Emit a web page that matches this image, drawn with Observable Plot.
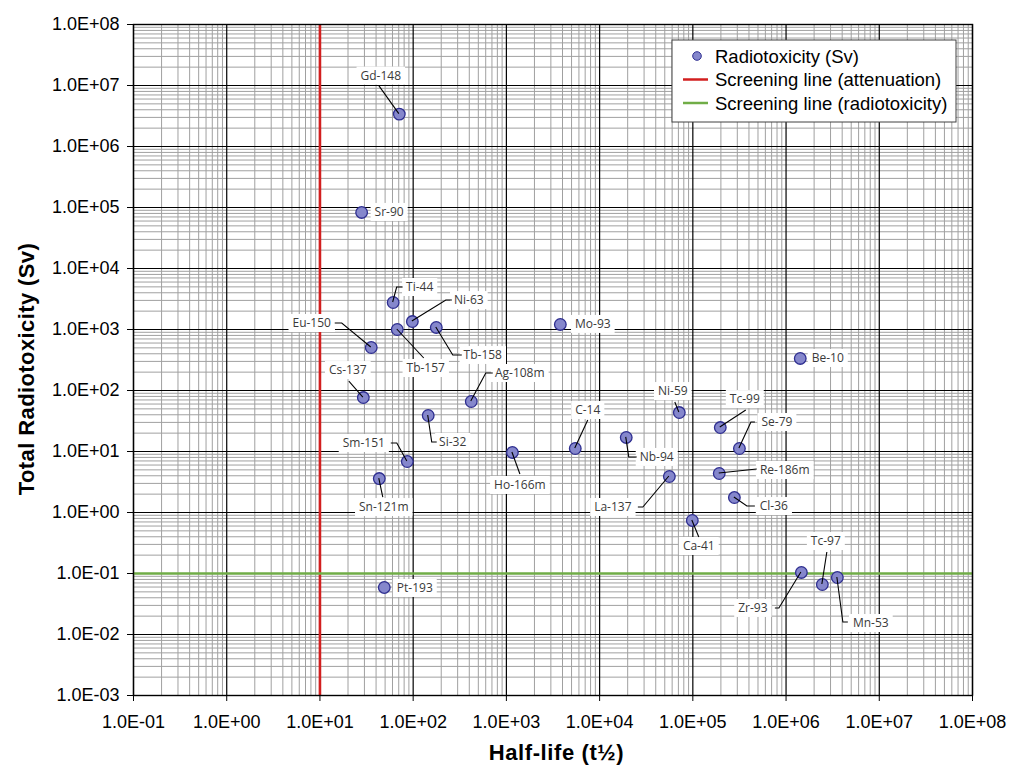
<!DOCTYPE html>
<html>
<head>
<meta charset="utf-8">
<script src="https://cdn.jsdelivr.net/npm/d3@7"></script>
<script src="https://cdn.jsdelivr.net/npm/@observablehq/plot@0.6"></script>
<style>
  html, body { margin: 0; padding: 0; background: #fff; }
  #chart svg { display: block; }
</style>
</head>
<body>
<div id="chart"></div>
<script>
// ---------- data ----------
const nuclides = ["Gd-148","Sr-90","Ti-44","Ni-63","Eu-150","Tb-157","Tb-158","Cs-137","Ag-108m","Si-32",
  "Sm-151","Sn-121m","Pt-193","Ho-166m","Mo-93","C-14","Nb-94","La-137","Ni-59","Ca-41",
  "Tc-99","Se-79","Re-186m","Cl-36","Be-10","Zr-93","Tc-97","Mn-53"];
const halfLife = [71, 28, 61, 98, 35.5, 67.5, 177, 29.2, 420, 145,
  86.5, 43.3, 49, 1160, 3790, 5480, 19300, 56000, 71600, 98700,
  197000, 316000, 192000, 279000, 1.42e6, 1.46e6, 2.45e6, 3.55e6];
const radiotoxicity = [3.4e6, 8.3e4, 2770, 1350, 507, 1000, 1080, 76.7, 66, 38.9,
  6.85, 3.6, 0.059, 9.64, 1210, 11.2, 17, 3.89, 43.5, 0.74,
  24.7, 11.2, 4.36, 1.76, 335, 0.104, 0.066, 0.086];

const attenuationScreen = [10];
const radiotoxicityScreen = [0.1];

const xTicks = [1e-1, 1e0, 1e1, 1e2, 1e3, 1e4, 1e5, 1e6, 1e7, 1e8];
const xTickLabels = ["1.0E-01","1.0E+00","1.0E+01","1.0E+02","1.0E+03","1.0E+04","1.0E+05","1.0E+06","1.0E+07","1.0E+08"];
const yTicks = [1e-3, 1e-2, 1e-1, 1e0, 1e1, 1e2, 1e3, 1e4, 1e5, 1e6, 1e7, 1e8];
const yTickLabels = ["1.0E-03","1.0E-02","1.0E-01","1.0E+00","1.0E+01","1.0E+02","1.0E+03","1.0E+04","1.0E+05","1.0E+06","1.0E+07","1.0E+08"];

const xTitle = "Half-life (t½)";
const yTitle = "Total Radiotoxicity (Sv)";
const legendLabels = ["Radiotoxicity (Sv)", "Screening line (attenuation)", "Screening line (radiotoxicity)"];

// ---------- label layout (pixel offsets from each point) ----------
const labelOffsets = [[-18,-38],[28,0],[27,-15],[57,-21],[-59,-24],[29,39],[47,28],[-15,-27],[49,-28],[25,27],
  [-43,-18],[5,29],[31,1],[8,33],[33,0],[13,-38],[31,20],[-56,31],[-6,-21],[7,26],
  [25,-28],[38,-26],[66,-3],[40,9],[28,0],[-48,36],[4,-43],[34,46]];
const leaderPaths = [[[-20,-28]],[],[[4,-15],[10,-15]],[[34,-21],[40,-21]],[[-29,-24],[-36,-24]],[[27,29]],[[17,28],[26,28]],[[-14,-16]],[[15,-28],[22,-28]],[[4,27],[9,27]],
  [[-10,-18],[-16,-18]],[[4,19]],[],[[8,22]],[],[[13,-28]],[[3,20],[11,20]],[[-26,31],[-31,31]],[[-4,-10]],[[7,17]],
  [[26,-17]],[[12,-26],[16,-26]],[[38,-4]],[[13,9],[21,9]],[],[[-22,36],[-26,36]],[[5,-32]],[[6,45],[11,45]]];

// ---------- derived ----------
const data = nuclides.map((name, i) => ({name, t: halfLife[i], sv: radiotoxicity[i]}));
function minorOf(major) {
  const out = [];
  for (let k = 0; k < major.length - 1; k++) for (let m = 2; m <= 9; m++) out.push(m * major[k]);
  return out;
}
const xMinor = minorOf(xTicks);
const yMinor = minorOf(yTicks);
const fmtFrom = (ticks, labels) => d => {
  const i = ticks.findIndex(t => Math.abs(Math.log10(t) - Math.log10(d)) < 1e-6);
  return i >= 0 ? labels[i] : "";
};

const LABEL_FONT = "12px 'Open Sans'";
const measureCtx = document.createElement("canvas").getContext("2d");
measureCtx.font = LABEL_FONT;

const SANS = "'Liberation Sans', Arial, sans-serif";
const dotFill = "#8587cc", dotStroke = "#2e2e90";
const redColor = "#d21f1f", greenColor = "#70ad47";

function overlay(index, scales, values, dimensions) {
  const {width, height, marginLeft, marginRight, marginTop, marginBottom} = dimensions;
  const X = scales.x, Y = scales.y;
  const g = d3.create("svg:g").attr("text-anchor", "start");
  const pos = data.map((d, i) => {
    const px = X(d.t), py = Y(d.sv);
    return {px, py, lx: px + labelOffsets[i][0], ly: py + labelOffsets[i][1], name: d.name, i};
  });
  // label boxes
  pos.forEach(p => {
    const w = measureCtx.measureText(p.name).width + 8;
    g.append("rect").attr("x", p.lx - w / 2).attr("y", p.ly - 9).attr("width", w).attr("height", 18).attr("fill", "#fff");
  });
  // leader lines
  pos.forEach(p => {
    const path = leaderPaths[p.i];
    if (!path.length) return;
    const pts = [[p.px, p.py], ...path.map(([a, b]) => [p.px + a, p.py + b])];
    g.append("path").attr("d", d3.line()(pts)).attr("fill", "none").attr("stroke", "#000").attr("stroke-width", 1.1);
  });
  // label text
  pos.forEach(p => {
    g.append("text").attr("x", p.lx).attr("y", p.ly).attr("dy", "0.36em").attr("text-anchor", "middle")
      .attr("font-family", "'Open Sans'").attr("font-size", 12).attr("fill", "#3a3a3a").text(p.name);
  });
  // legend
  const lx = width - marginRight - 300, ly = marginTop + 16;
  const lg = g.append("g").attr("transform", `translate(${lx},${ly})`);
  lg.append("rect").attr("x", 0).attr("y", 0).attr("width", 284).attr("height", 82).attr("fill", "#fff").attr("stroke", "#404040").attr("stroke-width", 1);
  const rows = [16, 39.5, 63];
  lg.append("circle").attr("cx", 25).attr("cy", rows[0]).attr("r", 4.3).attr("fill", dotFill).attr("stroke", dotStroke).attr("stroke-width", 1);
  lg.append("line").attr("x1", 11).attr("x2", 36).attr("y1", rows[1]).attr("y2", rows[1]).attr("stroke", redColor).attr("stroke-width", 2.5);
  lg.append("line").attr("x1", 11).attr("x2", 36).attr("y1", rows[2]).attr("y2", rows[2]).attr("stroke", greenColor).attr("stroke-width", 2.5);
  legendLabels.forEach((t, i) => {
    lg.append("text").attr("x", 43).attr("y", rows[i]).attr("dy", "0.36em").attr("text-anchor", "start")
      .attr("font-family", SANS).attr("font-size", 18.5).attr("fill", "#000").text(t);
  });
  // axis titles
  g.append("text").attr("transform", `translate(26,369) rotate(-90)`)
    .attr("text-anchor", "middle").attr("dy", "0.36em").attr("font-family", SANS)
    .attr("font-weight", "bold").attr("font-size", 22).attr("letter-spacing", 0.4).attr("fill", "#000").text(yTitle);
  g.append("text").attr("x", (marginLeft + width - marginRight) / 2 + 4).attr("y", height - 7)
    .attr("text-anchor", "middle").attr("font-family", SANS)
    .attr("font-weight", "bold").attr("font-size", 22).attr("letter-spacing", 0.6).attr("fill", "#000").text(xTitle);
  return g.node();
}

const chart = Plot.plot({
  width: 1013,
  height: 767,
  marginLeft: 133,
  marginRight: 41,
  marginTop: 24,
  marginBottom: 72,
  style: {fontFamily: SANS, fontSize: "18px", color: "#000", background: "#fff", overflow: "visible"},
  x: {type: "log", domain: [1e-1, 1e8], ticks: xTicks, tickFormat: fmtFrom(xTicks, xTickLabels), tickSize: 6, tickPadding: 14, label: null},
  y: {type: "log", domain: [1e-3, 1e8], ticks: yTicks, tickFormat: fmtFrom(yTicks, yTickLabels), tickSize: 6, tickPadding: 8, label: null},
  marks: [
    Plot.ruleX(xMinor, {stroke: "#a0a0a0", strokeWidth: 1}),
    Plot.ruleY(yMinor, {stroke: "#a0a0a0", strokeWidth: 1}),
    Plot.ruleX(xTicks, {stroke: "#000", strokeWidth: 1.2}),
    Plot.ruleY(yTicks, {stroke: "#000", strokeWidth: 1.2}),
    Plot.ruleX(attenuationScreen, {stroke: redColor, strokeWidth: 2.6}),
    Plot.ruleY(radiotoxicityScreen, {stroke: greenColor, strokeWidth: 2.6}),
    Plot.frame({stroke: "#000", strokeWidth: 1.4}),
    Plot.dot(data, {x: "t", y: "sv", r: 5.8, fill: dotFill, stroke: dotStroke, strokeWidth: 1.3}),
    overlay
  ]
});
document.getElementById("chart").appendChild(chart);
</script>
</body>
</html>
